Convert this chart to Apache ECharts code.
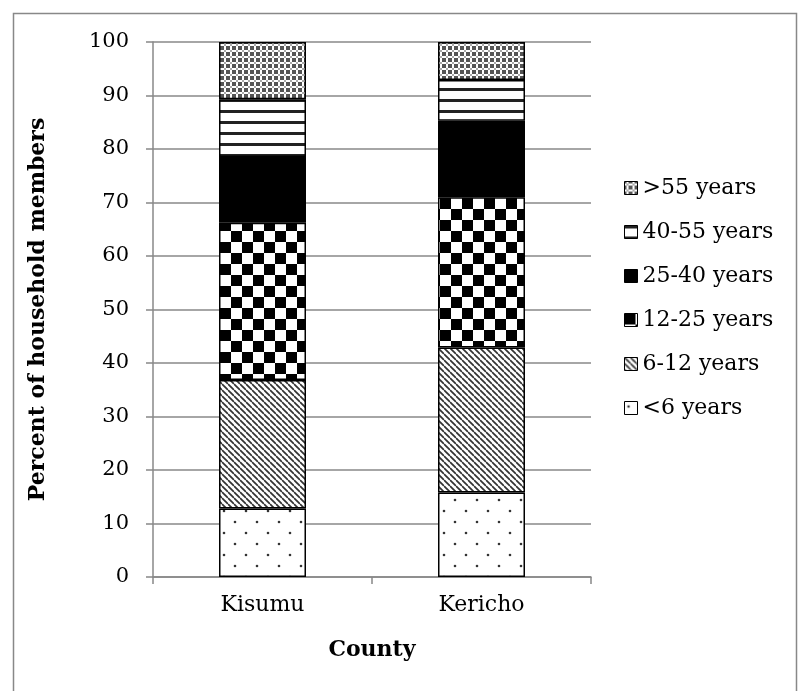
<!DOCTYPE html>
<html><head><meta charset="utf-8">
<script src="https://cdn.jsdelivr.net/npm/echarts@6/dist/echarts.min.js"></script>
<style>html,body{margin:0;padding:0;background:#fff}#c{width:805px;height:691px}</style>
</head><body><div id="c"></div>
<script>
var categories = ['Kisumu', 'Kericho'];
var seriesNames = ['<6 years', '6-12 years', '12-25 years', '25-40 years', '40-55 years', '>55 years'];
var under6 = [12.8, 15.8];
var age6to12 = [24.0, 27.1];
var age12to25 = [29.4, 28.1];
var age25to40 = [12.3, 14.3];
var age40to55 = [10.8, 7.6];
var over55 = [10.7, 7.1];
var yTicks = [0, 10, 20, 30, 40, 50, 60, 70, 80, 90, 100];

function mk(w, h, draw) {
  var c = document.createElement('canvas'); c.width = w; c.height = h;
  var g = c.getContext('2d'); g.fillStyle = '#fff'; g.fillRect(0, 0, w, h); draw(g, w, h);
  return { image: c, repeat: 'repeat' };
}
var pDots = mk(22, 22, function (g) {
  g.fillStyle = '#333';
  [[4, 5], [15, 16]].forEach(function (p) { g.beginPath(); g.arc(p[0], p[1], 1.3, 0, Math.PI * 2); g.fill(); });
});
var pDiag = mk(6, 6, function (g, w, h) {
  g.strokeStyle = '#333'; g.lineWidth = 1.7;
  [-w, 0, w].forEach(function (k) { g.beginPath(); g.moveTo(0, k); g.lineTo(w, w + k); g.stroke(); });
});
var pCheck = mk(22, 22, function (g) {
  g.fillStyle = '#000'; g.fillRect(0, 0, 11, 11); g.fillRect(11, 11, 11, 11);
});
var pHoriz = mk(4, 11, function (g) {
  g.fillStyle = '#222'; g.fillRect(0, 0, 4, 3);
});
var pWeave = mk(6, 6, function (g) {
  g.fillStyle = '#555'; g.fillRect(0, 0, 6, 6);
  g.fillStyle = '#fff'; g.fillRect(2, 0, 2, 6); g.fillRect(0, 2, 6, 2);
  g.fillStyle = '#aaa'; g.fillRect(2, 2, 2, 2);
});
var fills = [pDots, pDiag, pCheck, '#000', pHoriz, pWeave];
var values = [under6, age6to12, age12to25, age25to40, age40to55, over55];

var FONT = 'DejaVu Serif';
var chart = echarts.init(document.getElementById('c'), null, { renderer: 'canvas' });
chart.setOption({
  animation: false,
  backgroundColor: '#fff',
  textStyle: { fontFamily: FONT, color: '#000' },
  graphic: [{ type: 'rect', shape: { x: 13.5, y: 13.5, width: 783, height: 720 }, style: { fill: null, stroke: '#888', lineWidth: 1.5 }, silent: true }],
  grid: { left: 153, top: 42, right: 214, bottom: 114 },
  legend: {
    orient: 'vertical', left: 619, top: 172, itemGap: 22, itemWidth: 13, itemHeight: 13,
    icon: 'rect',
    data: seriesNames.slice().reverse(),
    textStyle: { fontFamily: FONT, fontSize: 22, color: '#000' },
    itemStyle: { borderColor: '#000', borderWidth: 1 }
  },
  xAxis: {
    type: 'category', data: categories,
    name: 'County', nameLocation: 'middle', nameGap: 62,
    nameTextStyle: { fontFamily: FONT, fontSize: 22, fontWeight: 'bold', color: '#000' },
    axisLine: { lineStyle: { color: '#888', width: 1.5 } },
    axisTick: { show: true, length: 7, lineStyle: { color: '#888', width: 1.5 } },
    axisLabel: { fontFamily: FONT, fontSize: 22, color: '#000', margin: 17 }
  },
  yAxis: {
    type: 'value', min: yTicks[0], max: yTicks[yTicks.length - 1], interval: 10,
    name: 'Percent of household members', nameLocation: 'middle', nameGap: 104,
    nameTextStyle: { fontFamily: FONT, fontSize: 22, fontWeight: 'bold', color: '#000' },
    axisLine: { show: true, lineStyle: { color: '#888', width: 1.5 } },
    axisTick: { show: true, length: 7, lineStyle: { color: '#888', width: 1.5 } },
    axisLabel: { fontFamily: FONT, fontSize: 21, color: '#000', margin: 24 },
    splitLine: { show: true, lineStyle: { color: '#888', width: 1.5 } }
  },
  series: seriesNames.map(function (n, i) {
    return {
      name: n, type: 'bar', stack: 'total', barWidth: 87, data: values[i],
      itemStyle: { color: fills[i], borderColor: '#000', borderWidth: 1.5 }
    };
  })
});
</script></body></html>
